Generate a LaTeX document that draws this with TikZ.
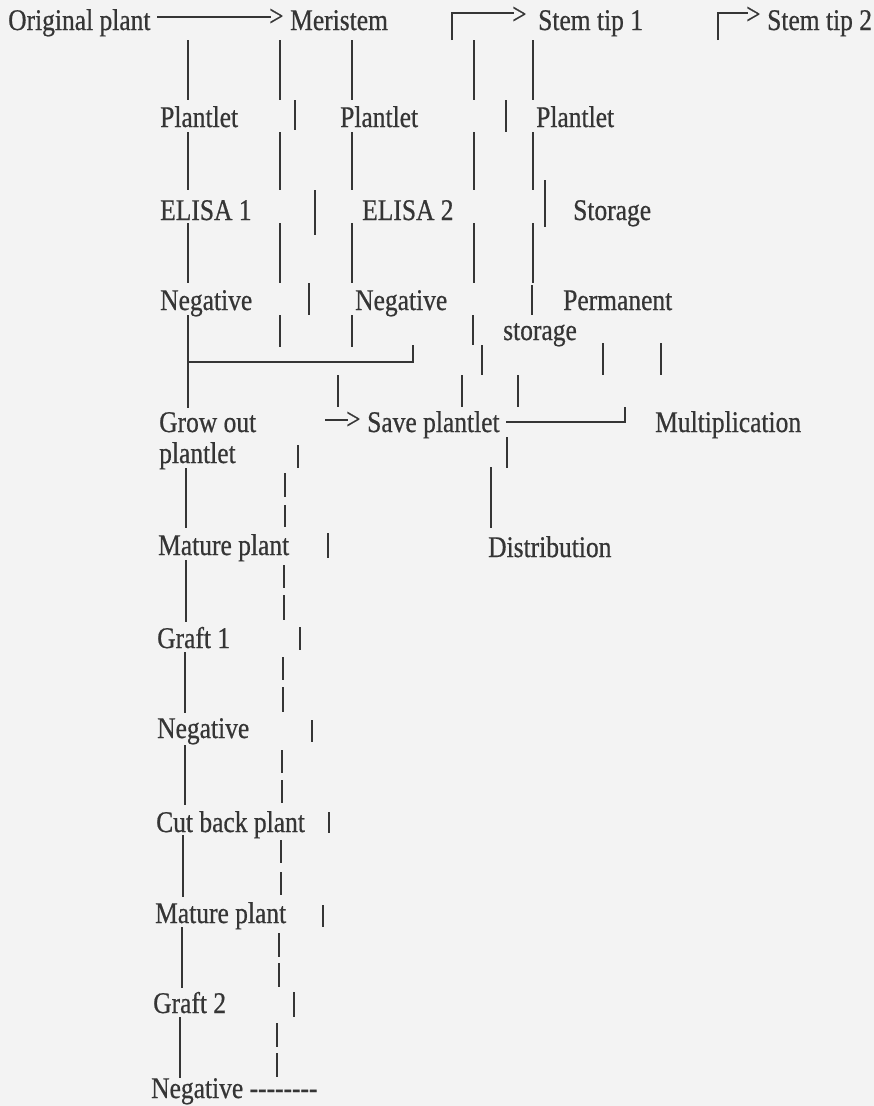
\documentclass[tikz,border=0pt]{standalone}
\usepackage{fontspec}
\setmainfont[FakeStretch=0.85,FakeBold=0.6]{Liberation Serif}
\definecolor{ink}{HTML}{353535}
\definecolor{paper}{HTML}{F3F3F3}

\begin{document}
\begin{tikzpicture}[x=1pt,y=-1pt]
	\tikzstyle{every node}+=[inner sep=0pt, anchor=base west, text=ink, font=\fontsize{30}{36}\selectfont]
	\tikzstyle{bar}=[draw=ink, line width=1.7pt]
	\fill [paper] (0,0) rectangle (874,1106);
	\useasboundingbox (0,0) rectangle (874,1106);
	% top row
	\node (orig) at (8,30) {Original plant};
	\node (meri) at (290,30) {Meristem};
	\node (tip1) at (538,30) {Stem tip 1};
	\node (tip2) at (767,30) {Stem tip 2};
	\draw [bar] (157,17) -- (271,17);
	\node (gt1) at (269,26) {>};
	\draw [bar] (452,40) -- (452,13) -- (514,13);
	\node (gt2) at (512,24) {>};
	\draw [bar] (718,40) -- (718,13) -- (748,13);
	\node (gt3) at (746,24) {>};
	% plantlet row
	\node (pl1) at (160,127) {Plantlet};
	\node (pl2) at (340,127) {Plantlet};
	\node (pl3) at (536,127) {Plantlet};
	\foreach \x in {188,280,352,474,533} {
		\draw [bar] (\x,40) -- (\x,100);
		\draw [bar] (\x,132) -- (\x,190);
		\draw [bar] (\x,223) -- (\x,283);
	}
	\draw [bar] (295,100) -- (295,130);
	\draw [bar] (506,100) -- (506,132);
	% elisa row
	\node (el1) at (160,220) {ELISA 1};
	\node (el2) at (362,220) {ELISA 2};
	\node (stor) at (573,220) {Storage};
	\draw [bar] (315,190) -- (315,235);
	\draw [bar] (545,180) -- (545,227);
	% negative row
	\node (neg1) at (160,310) {Negative};
	\node (neg2) at (355,310) {Negative};
	\node (perm) at (563,310) {Permanent};
	\node (pstor) at (503,340) {storage};
	\draw [bar] (309,283) -- (309,315);
	\draw [bar] (532,285) -- (532,315);
	\draw [bar] (188,315) -- (188,408);
	\draw [bar] (280,315) -- (280,347);
	\draw [bar] (352,315) -- (352,347);
	\draw [bar] (473,315) -- (473,345);
	\draw [bar] (188,362) -- (413,362) -- (413,345);
	\draw [bar] (482,345) -- (482,375);
	\draw [bar] (603,343) -- (603,375);
	\draw [bar] (661,343) -- (661,375);
	\draw [bar] (338,375) -- (338,407);
	\draw [bar] (462,375) -- (462,407);
	\draw [bar] (518,375) -- (518,407);
	% grow out row
	\node (grow) at (159,432) {Grow out};
	\node (grow2) at (159,463) {plantlet};
	\node (gt4) at (346,429) {>};
	\draw [bar] (325,420) -- (348,420);
	\node (save) at (367,432) {Save plantlet};
	\node (mult) at (655,432) {Multiplication};
	\draw [bar] (506,422) -- (625,422) -- (625,407);
	\draw [bar] (507,437) -- (507,468);
	\draw [bar] (298,445) -- (298,468);
	\draw [bar] (491,467) -- (491,528);
	\node (dist) at (488,557) {Distribution};
	% left column
	\node (mat1) at (158,555) {Mature plant};
	\node (gr1) at (157,648) {Graft 1};
	\node (neg3) at (157,738) {Negative};
	\node (cut) at (156,832) {Cut back plant};
	\node (mat2) at (155,923) {Mature plant};
	\node (gr2) at (153,1013) {Graft 2};
	\node (neg4) at (151,1098) {Negative -\kern0pt-\kern0pt-\kern0pt-\kern0pt-\kern0pt-\kern0pt-\kern0pt-};
	\draw [bar] (186,468) -- (186,528);
	\draw [bar] (285,473) -- (285,497);
	\draw [bar] (285,505) -- (285,527);
	\draw [bar] (328,533) -- (328,558);
	\draw [bar] (186,560) -- (186,622);
	\draw [bar] (284,565) -- (284,588);
	\draw [bar] (284,595) -- (284,620);
	\draw [bar] (300,627) -- (300,650);
	\draw [bar] (185,652) -- (185,713);
	\draw [bar] (283,657) -- (283,680);
	\draw [bar] (283,687) -- (283,712);
	\draw [bar] (312,720) -- (312,742);
	\draw [bar] (185,745) -- (185,805);
	\draw [bar] (282,750) -- (282,773);
	\draw [bar] (282,780) -- (282,803);
	\draw [bar] (329,812) -- (329,833);
	\draw [bar] (183,835) -- (183,897);
	\draw [bar] (281,840) -- (281,863);
	\draw [bar] (281,872) -- (281,895);
	\draw [bar] (323,905) -- (323,927);
	\draw [bar] (182,927) -- (182,988);
	\draw [bar] (279,933) -- (279,957);
	\draw [bar] (279,963) -- (279,987);
	\draw [bar] (294,992) -- (294,1017);
	\draw [bar] (180,1017) -- (180,1078);
	\draw [bar] (277,1023) -- (277,1047);
	\draw [bar] (277,1053) -- (277,1077);
\end{tikzpicture}
\end{document}
